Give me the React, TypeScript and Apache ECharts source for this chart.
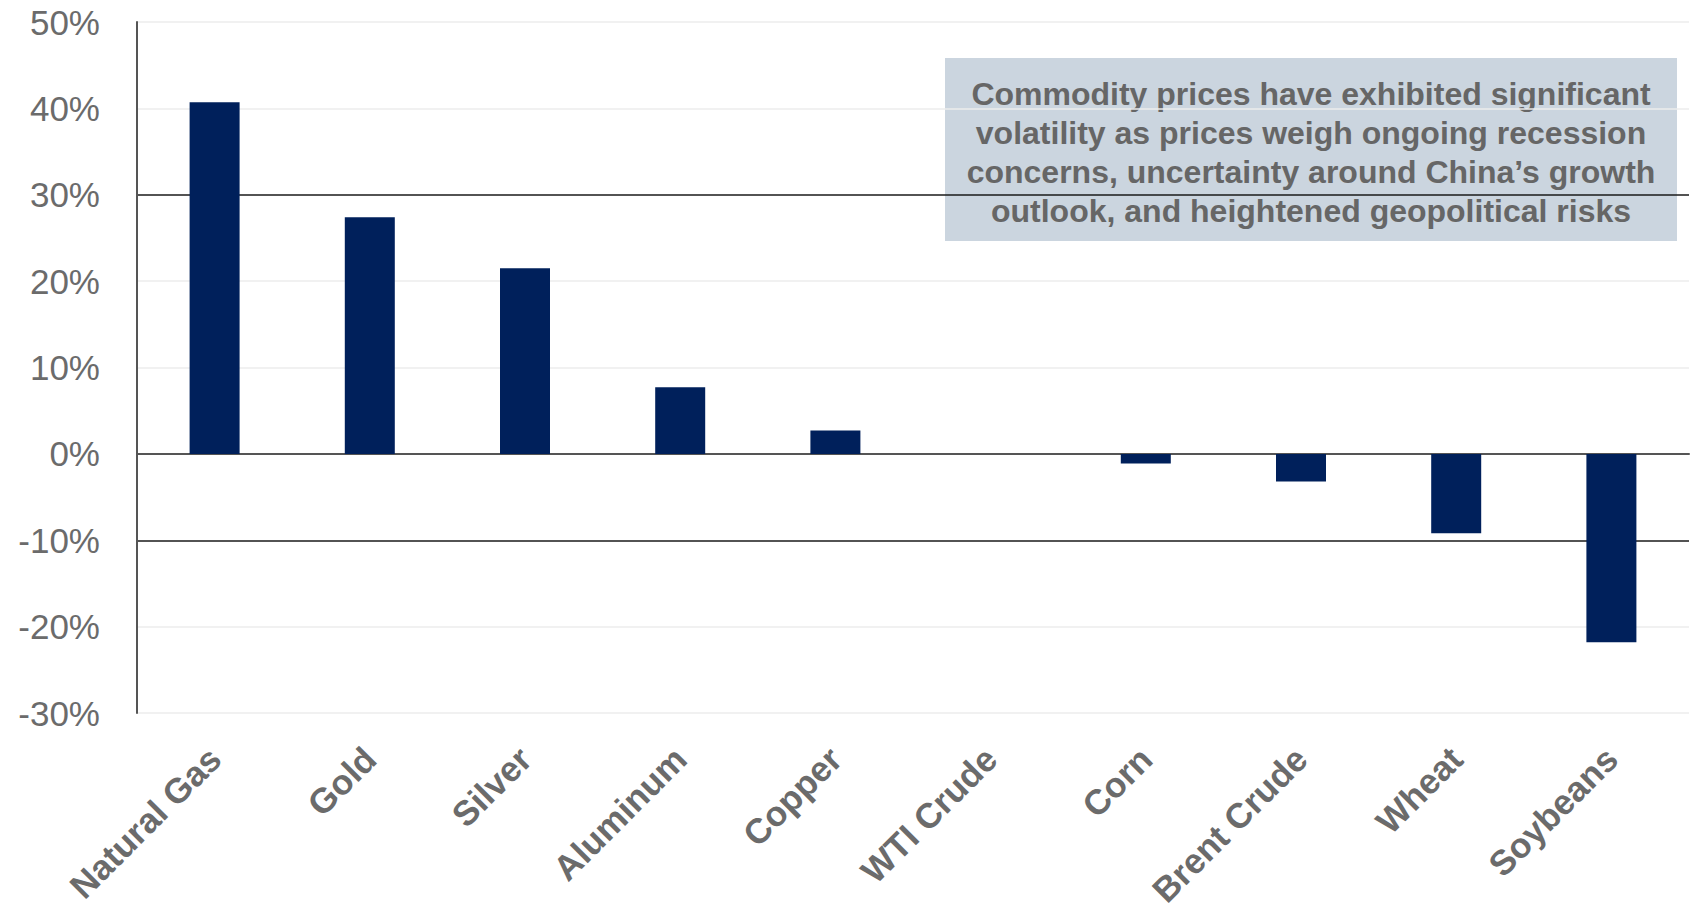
import React, { useEffect, useRef } from "react";
import * as echarts from "echarts";

const categories = ["Natural Gas", "Gold", "Silver", "Aluminum", "Copper", "WTI Crude", "Corn", "Brent Crude", "Wheat", "Soybeans"];
const values = [40.7, 27.4, 21.5, 7.7, 2.7, 0, -1.1, -3.2, -9.2, -21.8];
const yMin = -30;
const yMax = 50;
const yInterval = 10;
const noteLines = [
  "Commodity prices have exhibited significant",
  "volatility as prices weigh ongoing recession",
  "concerns, uncertainty around China\u2019s growth",
  "outlook, and heightened geopolitical risks",
];

const FONT = "'Liberation Sans', Arial, sans-serif";

export default function App() {
  const ref = useRef<HTMLDivElement>(null);
  useEffect(() => {
    if (!ref.current) return;
    const chart = echarts.init(ref.current, null, { renderer: "svg" });
    const light = "#ececec";
    const dark = "#1a1a1a";
    // tick order from min: -30,-20,-10,0,10,20,30,40,50
    const splitColors = [light, light, dark, "#333333", light, light, dark, light, light];
    chart.setOption({
      animation: false,
      backgroundColor: "#ffffff",
      grid: { left: 137, right: 9, top: 22, bottom: 199, containLabel: false, outerBoundsMode: "none" },
      xAxis: {
        type: "category",
        data: categories,
        axisLine: { show: true, lineStyle: { color: "#555555", width: 2 } },
        axisTick: { show: false },
        axisLabel: {
          interval: 0,
          rotate: 45,
          margin: 40,
          fontSize: 35,
          fontWeight: "bold",
          color: "#6b6b6b",
          fontFamily: FONT,
        },
        splitLine: { show: false },
      },
      yAxis: {
        type: "value",
        min: yMin,
        max: yMax,
        interval: yInterval,
        axisLine: { show: true, lineStyle: { color: "#555555", width: 2 } },
        axisTick: { show: false },
        axisLabel: {
          formatter: "{value}%",
          fontSize: 35,
          color: "#6b6b6b",
          margin: 37,
          fontFamily: FONT,
        },
        splitLine: { show: true, lineStyle: { color: splitColors, width: 1.5 } },
      },
      series: [
        {
          type: "bar",
          data: values,
          barWidth: 50,
          itemStyle: { color: "#00205B" },
        },
      ],
      graphic: [
        {
          type: "group",
          left: 945,
          top: 58,
          children: [
            {
              type: "rect",
              shape: { x: 0, y: 0, width: 732, height: 183 },
              style: { fill: "#cbd5df" },
            },
            {
              type: "text",
              x: 366,
              y: 94,
              style: {
                text: noteLines.join("\n"),
                fill: "#666666",
                font: `bold 32px ${FONT}`,
                align: "center",
                verticalAlign: "middle",
                lineHeight: 39,
              },
            },
          ],
        },
      ],
    });
    return () => chart.dispose();
  }, []);
  return <div ref={ref} style={{ position: "fixed", left: 0, top: 0, width: 1698, height: 912 }} />;
}
